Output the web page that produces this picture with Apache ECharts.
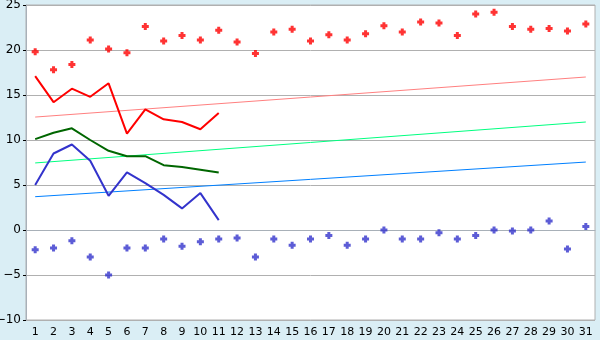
<!DOCTYPE html>
<html>
<head>
<meta charset="utf-8">
<script src="https://cdn.jsdelivr.net/npm/echarts@6/dist/echarts.min.js"></script>
<style>
html,body{margin:0;padding:0;background:#daeef5;}
#c{width:600px;height:340px;}
</style>
</head>
<body>
<div id="c"></div>
<script>
var days = [];
for (var d = 1; d <= 31; d++) days.push(String(d));

var maxPoints = [19.8,17.8,18.4,21.1,20.1,19.7,22.6,21.0,21.6,21.1,22.2,20.9,19.6,22.0,22.3,21.0,21.7,21.1,21.8,22.7,22.0,23.1,23.0,21.6,24.0,24.2,22.6,22.3,22.4,22.1,22.9];
var minPoints = [-2.2,-2.0,-1.2,-3.0,-5.0,-2.0,-2.0,-1.0,-1.8,-1.3,-1.0,-0.9,-3.0,-1.0,-1.7,-1.0,-0.6,-1.7,-1.0,0.0,-1.0,-1.0,-0.3,-1.0,-0.6,0.0,-0.1,0.0,1.0,-2.1,0.4];
var maxLine = [17.1,14.2,15.7,14.8,16.3,10.7,13.4,12.3,12.0,11.2,13.0];
var meanLine = [10.1,10.8,11.3,10.0,8.8,8.2,8.2,7.2,7.0,6.7,6.4];
var minLine = [5.0,8.5,9.5,7.7,3.8,6.4,5.2,3.9,2.4,4.1,1.1];
var maxTrend = [12.55,17.0];
var meanTrend = [7.45,12.0];
var minTrend = [3.7,7.55];
var yTicks = {min:-10,max:25,interval:5};

var plus = 'path://M2,0H5V2H7V5H5V7H2V5H0V2H2Z';

function trend(arr){
  return [[days[0], arr[0]], [days[days.length-1], arr[1]]];
}

var chart = echarts.init(document.getElementById('c'));
chart.setOption({
  animation:false,
  backgroundColor:'#daeef5',
  grid:{left:26,right:5,top:5,bottom:20,containLabel:false,outerBoundsMode:'none',show:true,backgroundColor:'#ffffff',borderColor:'#b0b0b0',borderWidth:1},
  xAxis:{
    type:'category',data:days,boundaryGap:true,
    axisLine:{lineStyle:{color:'#a8b0b8'}},
    axisTick:{alignWithLabel:true,length:5,lineStyle:{color:'#000'}},
    axisLabel:{color:'#000',fontFamily:'DejaVu Sans',fontSize:11,margin:7,interval:0},
    splitLine:{show:false}
  },
  yAxis:{
    type:'value',min:yTicks.min,max:yTicks.max,interval:yTicks.interval,
    axisLine:{show:true,lineStyle:{color:'#a8b0b8'}},
    axisTick:{show:true,length:3,lineStyle:{color:'#000'}},
    axisLabel:{color:'#000',fontFamily:'DejaVu Sans',fontSize:12,margin:5,
      formatter:function(v){return String(v).replace('-','\u2212');}},
    splitLine:{lineStyle:{color:'#b0b0b0',width:1}}
  },
  series:[
    {type:'line',data:trend(maxTrend),symbol:'none',lineStyle:{color:'#ff8080',width:1},z:2},
    {type:'line',data:trend(meanTrend),symbol:'none',lineStyle:{color:'#00ff80',width:1},z:2},
    {type:'line',data:trend(minTrend),symbol:'none',lineStyle:{color:'#0080ff',width:1},z:2},
    {type:'line',data:maxLine,symbol:'none',lineStyle:{color:'#ff0000',width:2},z:3},
    {type:'line',data:meanLine,symbol:'none',lineStyle:{color:'#006600',width:2},z:3},
    {type:'line',data:minLine,symbol:'none',lineStyle:{color:'#3333cc',width:2},z:3},
    {type:'scatter',data:maxPoints,symbol:plus,symbolSize:7,itemStyle:{color:'#ff0000'},z:4},
    {type:'scatter',data:minPoints,symbol:plus,symbolSize:7,itemStyle:{color:'#3333cc'},z:4}
  ]
});
</script>
</body>
</html>
